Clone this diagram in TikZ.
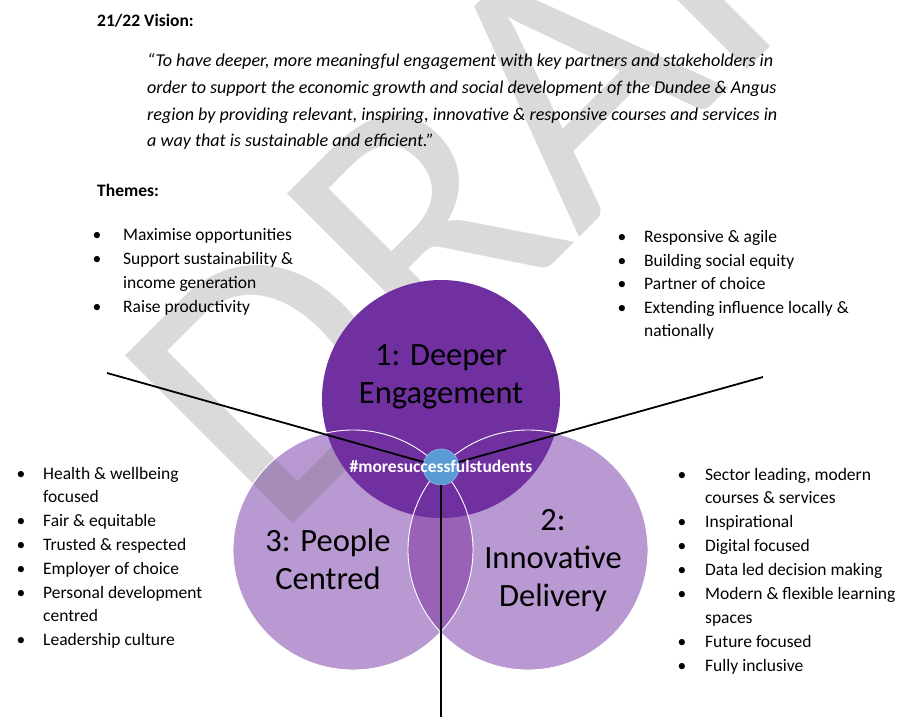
\documentclass[tikz,border=0pt]{standalone}
\usepackage{fontspec}
\setmainfont{Carlito}
\definecolor{dpurple}{HTML}{7030A0}
\definecolor{lpurple}{HTML}{B899D2}
\definecolor{mpurple}{HTML}{9A62B7}
\definecolor{dotblue}{HTML}{5B9BD5}
\definecolor{wmgray}{HTML}{6D6D6D}
\begin{document}
\begin{tikzpicture}[x=1pt,y=-1pt,
  line/.style={font=\fontsize{17.5}{21}\selectfont, anchor=base west, inner sep=0pt},
  bulletdot/.style={font=\fontsize{17.5}{21}\selectfont, anchor=base, inner sep=0pt},
  circlabel/.style={font=\fontsize{32.5}{38}\selectfont, align=center, inner sep=0pt},
  hub/.style={circle, fill=dotblue, draw=dotblue!70!white, line width=0.6pt, minimum size=36pt, inner sep=0pt},
  spoke/.style={line width=1.8pt, black},
  rim/.style={white, line width=0.9pt}]
\useasboundingbox (0,0) rectangle (903,719);
\fill[white] (0,0) rectangle (903,719);

% Venn circles
\coordinate (c1) at (441,399);
\coordinate (c2) at (528,550);
\coordinate (c3) at (353,550);
\fill[lpurple] (c3) circle[radius=120pt];
\fill[lpurple] (c2) circle[radius=120pt];
\begin{scope}
  \clip (c3) circle[radius=120pt];
  \fill[mpurple] (c2) circle[radius=120pt];
\end{scope}

% watermark
\begin{scope}
\clip (0,0) rectangle (903,719);
\node[rotate=45, anchor=base west, text=wmgray, text opacity=0.25, font=\fontsize{370}{370}\selectfont, inner sep=0pt] (wm) at (275,542) {DRAFT};
\end{scope}

\fill[dpurple] (c1) circle[radius=119pt];
\draw[rim] (c2) circle[radius=120pt];
\draw[rim] (c3) circle[radius=120pt];

% hub and spokes
\node[hub] (dot) at (441,467) {};
\coordinate (endL) at (107,373);
\coordinate (endR) at (763,377);
\coordinate (endB) at (441,717);
\draw[spoke] (dot) -- (endL);
\draw[spoke] (dot) -- (endR);
\draw[spoke] (dot) -- (endB);
\node[font=\bfseries\fontsize{17.5}{20}\selectfont, text=white, inner sep=0pt] (tag) at (441,466) {\#moresuccessfulstudents};

% circle labels
\node[circlabel] (lab1) at (441,377) {1: Deeper\\Engagement};
\node[circlabel] (lab3) at (328,559) {3: People\\Centred};
\node[circlabel] (lab2) at (553,561) {2:\\Innovative\\Delivery};

% heading texts
\node[line, font=\bfseries\fontsize{17.5}{21}\selectfont] (vision) at (97,27) {21/22 Vision:};
\foreach \t [count=\i] in {{\char"201C To have deeper, more meaningful engagement with key partners and stakeholders in},
  {order to support the economic growth and social development of the Dundee \& Angus},
  {region by providing relevant, inspiring, innovative \& responsive courses and services in},
  {a way that is sustainable and efficient.\char"201D}}
  \node[line, font=\itshape\fontsize{18.1}{21}\selectfont] (quote\i) at (147,{67+26.6*(\i-1)}) {\t};
\node[line, font=\bfseries\fontsize{17.5}{21}\selectfont] (themes) at (97,197) {Themes:};

% top-left list
\foreach \b/\t [count=\i] in {1/Maximise opportunities, 1/{Support sustainability \&}, 0/income generation, 1/Raise productivity}{
  \node[line] (tl\i) at (123,{241+23.7*(\i-1)}) {\t};
  \ifnum\b=1 \node[bulletdot] (tlb\i) at (97,{241+23.7*(\i-1)}) {\textbullet};\fi
}
% top-right list
\foreach \b/\t [count=\i] in {1/Responsive \& agile, 1/Building social equity, 1/Partner of choice, 1/{Extending influence locally \&}, 0/nationally}{
  \node[line] (tr\i) at (644,{242.5+23.6*(\i-1)}) {\t};
  \ifnum\b=1 \node[bulletdot] (trb\i) at (622,{242.5+23.6*(\i-1)}) {\textbullet};\fi
}
% left list
\foreach \b/\t [count=\i] in {1/Health \& wellbeing, 0/focused, 1/Fair \& equitable, 1/Trusted \& respected, 1/Employer of choice, 1/Personal development, 0/centred, 1/Leadership culture}{
  \node[line] (ll\i) at (43,{479+23.8*(\i-1)}) {\t};
  \ifnum\b=1 \node[bulletdot] (llb\i) at (21,{479+23.8*(\i-1)}) {\textbullet};\fi
}
% right list
\foreach \b/\t [count=\i] in {1/{Sector leading, modern}, 0/courses \& services, 1/Inspirational, 1/Digital focused, 1/Data led decision making, 1/Modern \& flexible learning, 0/spaces, 1/Future focused, 1/Fully inclusive}{
  \node[line] (rl\i) at (705,{480+23.9*(\i-1)}) {\t};
  \ifnum\b=1 \node[bulletdot] (rlb\i) at (682,{480+23.9*(\i-1)}) {\textbullet};\fi
}
\end{tikzpicture}
\end{document}
